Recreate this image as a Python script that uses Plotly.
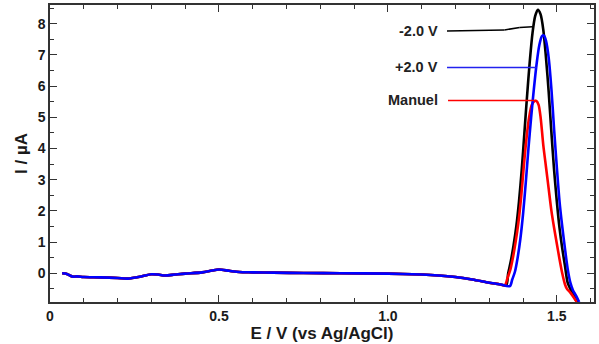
import plotly.graph_objects as go

# shared baseline (all three curves overlap here)
base_E = [0.036, 0.05, 0.06, 0.07, 0.08, 0.10, 0.15, 0.20, 0.23, 0.27, 0.30, 0.32, 0.34,
          0.37, 0.40, 0.45, 0.48, 0.50, 0.53, 0.56, 0.60, 0.66, 0.75, 0.86, 1.00, 1.10,
          1.15, 1.20, 1.25, 1.30, 1.33]
base_I = [0.0, -0.02, -0.08, -0.11, -0.1, -0.12, -0.13, -0.15, -0.17, -0.1, -0.03, -0.04, -0.07,
          -0.04, -0.01, 0.03, 0.09, 0.12, 0.08, 0.04, 0.03, 0.02, 0.01, 0.0, -0.01, -0.04,
          -0.07, -0.12, -0.2, -0.3, -0.35]

# peak regions
black_E = [1.350, 1.356, 1.364, 1.372, 1.380, 1.388, 1.396, 1.404, 1.412, 1.420, 1.428, 1.436,
           1.444, 1.452, 1.460, 1.468, 1.476, 1.484, 1.492, 1.500, 1.508, 1.516, 1.524, 1.532,
           1.540, 1.550, 1.562]
black_I = [-0.38, 0.0, 0.4, 0.9, 1.5, 2.3, 3.3, 4.5, 5.7, 6.8, 7.7, 8.25,
           8.45, 8.3, 7.8, 6.9, 5.8, 4.5, 3.3, 2.3, 1.45, 0.8, 0.25, -0.3,
           -0.5, -0.7, -1.0]

red_E = [1.346, 1.354, 1.362, 1.370, 1.378, 1.386, 1.394, 1.402, 1.410, 1.418, 1.426, 1.434,
         1.440, 1.446, 1.452, 1.460, 1.468, 1.476, 1.484, 1.492, 1.500, 1.508, 1.516, 1.524,
         1.530, 1.540, 1.559]
red_I = [-0.38, -0.15, 0.1, 0.5, 1.0, 1.6, 2.4, 3.4, 4.3, 5.0, 5.4, 5.52,
         5.52, 5.4, 5.0, 4.1, 3.4, 2.7, 2.0, 1.45, 0.95, 0.45, 0.0, -0.35,
         -0.5, -0.62, -0.92]

blue_E = [1.361, 1.368, 1.376, 1.384, 1.392, 1.400, 1.408, 1.416, 1.424, 1.432, 1.440, 1.448,
          1.456, 1.462, 1.468, 1.476, 1.484, 1.492, 1.500, 1.508, 1.516, 1.524, 1.532, 1.540,
          1.548, 1.556, 1.566]
blue_I = [-0.41, -0.2, 0.05, 0.5, 1.1, 1.9, 2.9, 4.0, 5.0, 5.9, 6.7, 7.3,
          7.6, 7.62, 7.45, 6.9, 5.9, 4.6, 3.4, 2.3, 1.5, 0.8, 0.15, -0.3,
          -0.55, -0.7, -0.92]

series_names = ["-2.0 V", "Manuel", "+2.0 V"]
series_colors = ["#000000", "#ff0000", "#0000ff"]

x_tick_vals = [0, 0.5, 1.0, 1.5]
x_tick_labels = ["0", "0.5", "1.0", "1.5"]
y_tick_vals = [0, 1, 2, 3, 4, 5, 6, 7, 8]
y_tick_labels = ["0", "1", "2", "3", "4", "5", "6", "7", "8"]

fig = go.Figure()
for name, col, E, I in zip(series_names, series_colors,
                           [black_E, red_E, blue_E], [black_I, red_I, blue_I]):
    fig.add_trace(go.Scatter(x=base_E + E, y=base_I + I, mode="lines", name=name,
                             line=dict(color=col, width=2.6, shape="spline", smoothing=0.8),
                             showlegend=False))

font_b = "Liberation Sans, Arial, sans-serif"

# labels with leader lines
labels = [("-2.0 V", 7.77, "#000000", [(1.175, 7.77), (1.345, 7.80), (1.39, 7.88), (1.428, 7.9)]),
          ("+2.0 V", 6.6, "#2222ee", [(1.175, 6.6), (1.44, 6.6)]),
          ("Manuel", 5.54, "#ff0000", [(1.178, 5.54), (1.44, 5.54)])]
shapes = []
for txt, yv, col, pts in labels:
    fig.add_annotation(x=1.155, y=yv, xref="x", yref="y", text="<b>%s</b>" % txt,
                       showarrow=False, xanchor="right", yanchor="middle",
                       font=dict(family=font_b, size=14.5, color="#222222"))
    for (x0, y0), (x1, y1) in zip(pts[:-1], pts[1:]):
        shapes.append(dict(type="line", xref="x", yref="y", x0=x0, y0=y0, x1=x1, y1=y1,
                           line=dict(color=col, width=1.5)))

fig.update_layout(
    width=599, height=344,
    margin=dict(l=50, r=5, t=3, b=42),
    plot_bgcolor="white", paper_bgcolor="white",
    shapes=shapes,
    xaxis=dict(range=[0, 1.61], tickvals=x_tick_vals,
               ticktext=["<b>%s</b>" % t for t in x_tick_labels],
               ticks="inside", ticklen=7, tickwidth=1.2, tickcolor="#333",
               showline=True, linecolor="#333", linewidth=1.5, mirror="ticks",
               showgrid=False, zeroline=False,
               minor=dict(dtick=0.1, ticks="inside", ticklen=4, tickcolor="#333", showgrid=False),
               tickfont=dict(family=font_b, size=14, color="#1a1a1a", weight="bold"),
               title=dict(text="<b>E / V (vs Ag/AgCl)</b>", standoff=3,
                          font=dict(family=font_b, size=17, color="#1a1a1a"))),
    yaxis=dict(range=[-0.92, 8.6], tickvals=y_tick_vals,
               ticktext=["<b>%s</b>" % t for t in y_tick_labels],
               ticks="inside", ticklen=7, tickwidth=1.2, tickcolor="#333",
               showline=True, linecolor="#333", linewidth=1.5, mirror="ticks",
               showgrid=False, zeroline=False,
               minor=dict(dtick=0.5, ticks="inside", ticklen=4, tickcolor="#333", showgrid=False),
               tickfont=dict(family=font_b, size=14, color="#1a1a1a", weight="bold"),
               title=dict(text="<b>I / µA</b>", standoff=6,
                          font=dict(family=font_b, size=17, color="#1a1a1a"))),
)

fig.write_html("out.html")
